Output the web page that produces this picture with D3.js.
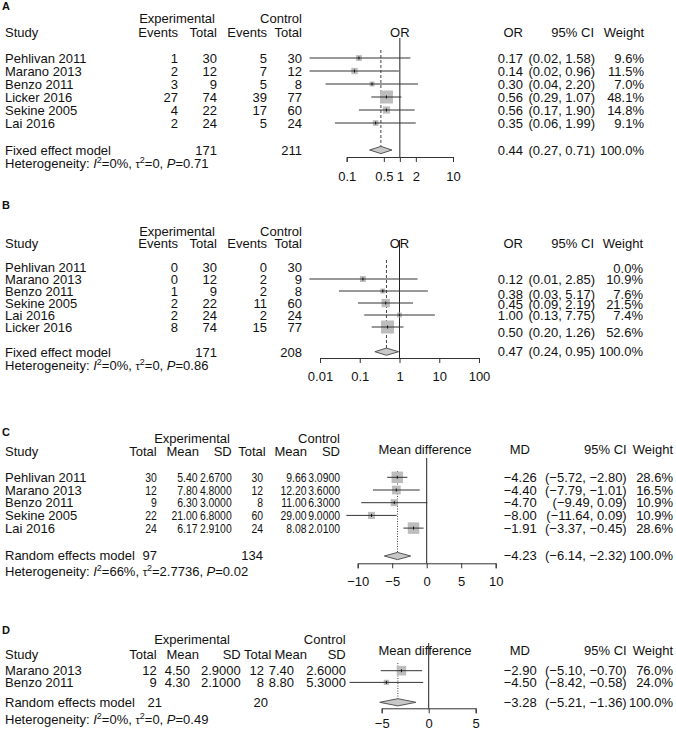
<!DOCTYPE html>
<html><head><meta charset="utf-8">
<script src="https://cdn.jsdelivr.net/npm/d3@7"></script>
<style>
body{margin:0;background:#fff}
svg text{font-family:"Liberation Sans",Arial,Helvetica,sans-serif;font-size:13px;fill:#111}
</style></head><body>
<svg id="c" width="676" height="729"></svg>
<script>
// ---------- Panel A data ----------
const aStudies = ["Pehlivan 2011","Marano 2013","Benzo 2011","Licker 2016","Sekine 2005","Lai 2016"];
const aExpEvents = [1,2,3,27,4,2];
const aExpTotal  = [30,12,9,74,22,24];
const aCtlEvents = [5,7,5,39,17,5];
const aCtlTotal  = [30,12,8,77,60,24];
const aEst   = [0.17,0.14,0.30,0.56,0.56,0.35];
const aLower = [0.02,0.02,0.04,0.29,0.17,0.06];
const aUpper = [1.58,0.96,2.20,1.07,1.90,1.99];
const aWeight = [9.6,11.5,7.0,48.1,14.8,9.1];
const aPooled = [0.44,0.27,0.71];
const aTotals = [171,211];
const aHet = ["0%","0","0.71"];
const aTicks = [0.1,0.5,1,2,10];

// ---------- Panel B data ----------
const bStudies = ["Pehlivan 2011","Marano 2013","Benzo 2011","Sekine 2005","Lai 2016","Licker 2016"];
const bExpEvents = [0,0,1,2,2,8];
const bExpTotal  = [30,12,9,22,24,74];
const bCtlEvents = [0,2,2,11,2,15];
const bCtlTotal  = [30,9,8,60,24,77];
const bEst   = [null,0.12,0.38,0.45,1.00,0.50];
const bLower = [null,0.0054,0.03,0.09,0.13,0.20];
const bUpper = [null,2.85,5.17,2.19,7.75,1.26];
const bWeight = [0.0,10.9,7.6,21.5,7.4,52.6];
const bPooled = [0.47,0.24,0.95];
const bTotals = [171,208];
const bHet = ["0%","0","0.86"];
const bTicks = [0.01,0.1,1,10,100];

// ---------- Panel C data ----------
const cStudies = ["Pehlivan 2011","Marano 2013","Benzo 2011","Sekine 2005","Lai 2016"];
const cExpTotal = [30,12,9,22,24];
const cExpMean  = ["5.40","7.80","6.30","21.00","6.17"];
const cExpSD    = ["2.6700","4.8000","3.0000","6.8000","2.9100"];
const cCtlTotal = [30,12,8,60,24];
const cCtlMean  = ["9.66","12.20","11.00","29.00","8.08"];
const cCtlSD    = ["3.0900","3.6000","6.3000","9.0000","2.0100"];
const cEst   = [-4.26,-4.40,-4.70,-8.00,-1.91];
const cLower = [-5.72,-7.79,-9.49,-11.64,-3.37];
const cUpper = [-2.80,-1.01,0.09,-4.36,-0.45];
const cCIText = ["(−5.72, −2.80)","(−7.79, −1.01)","(−9.49, 0.09)","(−11.64, 0.09)","(−3.37, −0.45)"];
const cWeight = [28.6,16.5,10.9,10.9,28.6];
const cPooled = [-4.23,-6.14,-2.32];
const cPooledCI = "(−6.14, −2.32)";
const cTotals = [97,134];
const cHet = ["66%","2.7736","0.02"];
const cTicks = [-10,-5,0,5,10];

// ---------- Panel D data ----------
const dStudies = ["Marano 2013","Benzo 2011"];
const dExpTotal = [12,9];
const dExpMean  = ["4.50","4.30"];
const dExpSD    = ["2.9000","2.1000"];
const dCtlTotal = [12,8];
const dCtlMean  = ["7.40","8.80"];
const dCtlSD    = ["2.6000","5.3000"];
const dEst   = [-2.90,-4.50];
const dLower = [-5.10,-8.42];
const dUpper = [-0.70,-0.58];
const dCIText = ["(−5.10, −0.70)","(−8.42, −0.58)"];
const dWeight = [76.0,24.0];
const dPooled = [-3.28,-5.21,-1.36];
const dPooledCI = "(−5.21, −1.36)";
const dTotals = [21,20];
const dHet = ["0%","0","0.49"];
const dTicks = [-5,0,5];

// ---------- drawing ----------
const svg = d3.select("#c");
const f2 = d3.format(".2f");
const f1 = v => d3.format(".1f")(v) + "%";
const BO = 4.6; // baseline offset from text centre

function T(g, x, y, s, anchor) {
  return g.append("text").attr("x", x).attr("y", y + BO)
    .attr("text-anchor", anchor || "start").text(s);
}
// narrow numeric text (the C table uses condensed numerals)
function N(g, x, y, s, k) {
  const t = T(g, x, y, s, "end");
  const w = t.node().getComputedTextLength();
  t.attr("textLength", w * (k || 0.8)).attr("lengthAdjust", "spacingAndGlyphs");
  return t;
}
function het(g, y, v) {
  const t = g.append("text").attr("x", 5).attr("y", y + BO);
  t.append("tspan").text("Heterogeneity: ");
  t.append("tspan").style("font-style","italic").text("I");
  t.append("tspan").attr("dy",-5).style("font-size","9px").text("2");
  t.append("tspan").attr("dy",5).text("=" + v[0] + ", ");
  t.append("tspan").style("font-size","11px").text("τ");
  t.append("tspan").attr("dy",-5).style("font-size","9px").text("2");
  t.append("tspan").attr("dy",5).text("=" + v[1] + ", ");
  t.append("tspan").style("font-style","italic").text("P");
  t.append("tspan").text("=" + v[2]);
}

function forest(g, p) {
  const x = p.scale;
  const maxW = d3.max(p.weight);
  g.append("line").attr("x1", x(p.ref)).attr("x2", x(p.ref))
    .attr("y1", p.refTop).attr("y2", p.axisY).attr("stroke", "#222").attr("stroke-width", 1);
  g.append("line").attr("x1", x(p.pooled[0])).attr("x2", x(p.pooled[0]))
    .attr("y1", p.poolTop).attr("y2", p.pooledY).attr("stroke", "#444").attr("stroke-width", 1)
    .attr("stroke-dasharray", p.dash);
  p.est.forEach((e, i) => {
    if (e === null) return;
    const y = p.rowY[i];
    const s = p.maxSize * Math.sqrt(p.weight[i] / maxW);
    g.append("rect").attr("x", x(e) - s / 2).attr("y", y - s / 2)
      .attr("width", s).attr("height", s).attr("fill", "#bdbdbd");
    g.append("line").attr("x1", x(p.lower[i])).attr("x2", x(p.upper[i]))
      .attr("y1", y).attr("y2", y).attr("stroke", "#333").attr("stroke-width", 1);
    g.append("line").attr("x1", x(e)).attr("x2", x(e))
      .attr("y1", y - 1.5).attr("y2", y + 1.5).attr("stroke", "#111").attr("stroke-width", 1);
  });
  const [pe, pl, ph] = p.pooled, yd = p.pooledY, hh = 3.6;
  g.append("path")
    .attr("d", `M${x(pl)},${yd}L${x(pe)},${yd - hh}L${x(ph)},${yd}L${x(pe)},${yd + hh}Z`)
    .attr("fill", "#c8c8c8").attr("stroke", "#555").attr("stroke-width", 1);
  const ax = d3.axisBottom(x).tickValues(p.ticks).tickSize(5).tickSizeOuter(5)
    .tickPadding(p.pad).tickFormat(p.fmt);
  const ag = g.append("g").attr("transform", `translate(0,${p.axisY})`).call(ax);
  ag.selectAll("path,line").attr("stroke", "#333");
  ag.selectAll("text").attr("font-size", null).attr("font-family", null).style("fill", "#111");
  ag.attr("font-size", null).attr("font-family", null);
}

// ===== Panel A =====
(function () {
  const g = svg.append("g");
  g.append("text").attr("x", 2).attr("y", 9.5).style("font-weight", "bold").style("font-size", "11px").text("A");
  const rowY = aStudies.map((_, i) => 58 + 13 * i);
  T(g, 215, 18, "Experimental", "end"); T(g, 302, 18, "Control", "end");
  T(g, 5, 32, "Study"); T(g, 178, 32, "Events", "end"); T(g, 217, 32, "Total", "end");
  T(g, 267, 32, "Events", "end"); T(g, 302, 32, "Total", "end");
  const sc = d3.scaleLog().domain([0.1, 10]).range([346.7, 453]);
  T(g, sc(1), 32, "OR", "middle");
  T(g, 523, 32, "OR", "end"); T(g, 594, 32, "95% CI", "end"); T(g, 644, 32, "Weight", "end");
  aStudies.forEach((s, i) => {
    const y = rowY[i];
    T(g, 5, y, s);
    T(g, 178, y, aExpEvents[i], "end"); T(g, 217, y, aExpTotal[i], "end");
    T(g, 267, y, aCtlEvents[i], "end"); T(g, 302, y, aCtlTotal[i], "end");
    T(g, 523, y, f2(aEst[i]), "end");
    T(g, 595, y, "(" + f2(aLower[i]) + ", " + f2(aUpper[i]) + ")", "end");
    T(g, 644, y, f1(aWeight[i]), "end");
  });
  T(g, 5, 150, "Fixed effect model"); T(g, 217, 150, aTotals[0], "end"); T(g, 302, 150, aTotals[1], "end");
  T(g, 523, 150, f2(aPooled[0]), "end");
  T(g, 595, 150, "(" + f2(aPooled[1]) + ", " + f2(aPooled[2]) + ")", "end");
  T(g, 644, 150, f1(100), "end");
  het(g, 163, aHet);
  forest(g, { scale: sc, ref: 1, refTop: 38, poolTop: 50, axisY: 157, pooledY: 150, rowY,
    est: aEst, lower: aLower, upper: aUpper, weight: aWeight, pooled: aPooled, maxSize: 13,
    ticks: aTicks, pad: 10, fmt: d => String(d), dash: "3,2" });
})();

// ===== Panel B =====
(function () {
  const g = svg.append("g");
  g.append("text").attr("x", 2).attr("y", 209).style("font-weight", "bold").style("font-size", "11px").text("B");
  const rowY = bStudies.map((_, i) => 267 + 12 * i);
  const rightY = [268, 279, 294, 304, 315, 332];
  T(g, 215, 231.7, "Experimental", "end"); T(g, 302, 231.7, "Control", "end");
  T(g, 5, 243, "Study"); T(g, 178, 243, "Events", "end"); T(g, 217, 243, "Total", "end");
  T(g, 267, 243, "Events", "end"); T(g, 302, 243, "Total", "end");
  const sc = d3.scaleLog().domain([0.01, 100]).range([320, 479]);
  T(g, sc(1), 243, "OR", "middle");
  T(g, 523, 243, "OR", "end"); T(g, 594, 243, "95% CI", "end"); T(g, 643, 243, "Weight", "end");
  bStudies.forEach((s, i) => {
    const y = rowY[i];
    T(g, 5, y, s);
    T(g, 178, y, bExpEvents[i], "end"); T(g, 217, y, bExpTotal[i], "end");
    T(g, 267, y, bCtlEvents[i], "end"); T(g, 302, y, bCtlTotal[i], "end");
    if (bEst[i] !== null) {
      T(g, 523, rightY[i], f2(bEst[i]), "end");
      T(g, 595, rightY[i], "(" + f2(bLower[i]) + ", " + f2(bUpper[i]) + ")", "end");
    }
    T(g, 643, rightY[i], f1(bWeight[i]), "end");
  });
  T(g, 5, 352, "Fixed effect model"); T(g, 217, 352, bTotals[0], "end"); T(g, 302, 352, bTotals[1], "end");
  T(g, 523, 351, f2(bPooled[0]), "end");
  T(g, 595, 351, "(" + f2(bPooled[1]) + ", " + f2(bPooled[2]) + ")", "end");
  T(g, 643, 351, f1(100), "end");
  het(g, 365, bHet);
  forest(g, { scale: sc, ref: 1, refTop: 240, poolTop: 260, axisY: 358, pooledY: 351.7, rowY,
    est: bEst, lower: bLower, upper: bUpper, weight: bWeight, pooled: bPooled, maxSize: 13,
    ticks: bTicks, pad: 8.5, fmt: d => String(d), dash: "3,2" });
})();

// ===== Panel C =====
(function () {
  const g = svg.append("g");
  g.append("text").attr("x", 2).attr("y", 435.7).style("font-weight", "bold").style("font-size", "11px").text("C");
  const rowY = cStudies.map((_, i) => 477.3 + 12.7 * i);
  T(g, 230, 438.3, "Experimental", "end"); T(g, 340, 438.3, "Control", "end");
  T(g, 5, 451.7, "Study");
  T(g, 156.7, 451.7, "Total", "end"); T(g, 199, 451.7, "Mean", "end"); T(g, 231.7, 451.7, "SD", "end");
  T(g, 265.7, 451.7, "Total", "end"); T(g, 307, 451.7, "Mean", "end"); T(g, 340, 451.7, "SD", "end");
  T(g, 425, 449, "Mean difference", "middle");
  T(g, 530, 449, "MD", "end"); T(g, 626.7, 449, "95% CI", "end"); T(g, 673, 449, "Weight", "end");
  const sc = d3.scaleLinear().domain([-10, 10]).range([357.7, 495.7]);
  cStudies.forEach((s, i) => {
    const y = rowY[i];
    T(g, 5, y, s);
    N(g, 156.7, y, cExpTotal[i]); N(g, 197.5, y, cExpMean[i]); N(g, 231.7, y, cExpSD[i]);
    N(g, 263, y, cCtlTotal[i]); N(g, 306.5, y, cCtlMean[i]); N(g, 340, y, cCtlSD[i]);
    T(g, 536.7, y, f2(cEst[i]), "end");
    T(g, 626.7, y, cCIText[i], "end");
    T(g, 673, y, f1(cWeight[i]), "end");
  });
  T(g, 5, 555, "Random effects model"); T(g, 157, 555, cTotals[0], "end"); T(g, 263, 555, cTotals[1], "end");
  T(g, 536.7, 555, f2(cPooled[0]), "end"); T(g, 626.7, 555, cPooledCI, "end"); T(g, 673, 555, f1(100), "end");
  het(g, 571.7, cHet);
  forest(g, { scale: sc, ref: 0, refTop: 458, poolTop: 471, axisY: 563.3, pooledY: 556, rowY,
    est: cEst, lower: cLower, upper: cUpper, weight: cWeight, pooled: cPooled, maxSize: 11.5,
    ticks: cTicks, pad: 8.8, fmt: d3.format("d"), dash: "1,1.5" });
})();

// ===== Panel D =====
(function () {
  const g = svg.append("g");
  g.append("text").attr("x", 2).attr("y", 634).style("font-weight", "bold").style("font-size", "11px").text("D");
  const rowY = dStudies.map((_, i) => 670.7 + 11.7 * i);
  T(g, 230, 639.3, "Experimental", "end"); T(g, 345.7, 639.3, "Control", "end");
  T(g, 5, 654, "Study");
  T(g, 156.7, 654, "Total", "end"); T(g, 199, 654, "Mean", "end"); T(g, 240.7, 654, "SD", "end");
  T(g, 271.5, 654, "Total", "end"); T(g, 307, 654, "Mean", "end"); T(g, 345.7, 654, "SD", "end");
  T(g, 425, 650, "Mean difference", "middle");
  T(g, 530, 650, "MD", "end"); T(g, 626.7, 650, "95% CI", "end"); T(g, 673, 650, "Weight", "end");
  const sc = d3.scaleLinear().domain([-5, 5]).range([381.7, 475.7]);
  dStudies.forEach((s, i) => {
    const y = rowY[i];
    T(g, 5, y, s);
    T(g, 156.7, y, dExpTotal[i], "end"); T(g, 190, y, dExpMean[i], "end"); T(g, 240.7, y, dExpSD[i], "end");
    T(g, 264, y, dCtlTotal[i], "end"); T(g, 294, y, dCtlMean[i], "end"); T(g, 346, y, dCtlSD[i], "end");
    T(g, 536.7, y, f2(dEst[i]), "end");
    T(g, 626.7, y, dCIText[i], "end");
    T(g, 673, y, f1(dWeight[i]), "end");
  });
  T(g, 5, 702.3, "Random effects model"); T(g, 162, 702.3, dTotals[0], "end"); T(g, 268, 702.3, dTotals[1], "end");
  T(g, 536.7, 702.3, f2(dPooled[0]), "end"); T(g, 626.7, 702.3, dPooledCI, "end"); T(g, 673, 702.3, f1(100), "end");
  het(g, 719.5, dHet);
  forest(g, { scale: sc, ref: 0, refTop: 643, poolTop: 663, axisY: 708.3, pooledY: 702.3, rowY,
    est: dEst, lower: dLower, upper: dUpper, weight: dWeight, pooled: dPooled, maxSize: 9.5,
    ticks: dTicks, pad: 5, fmt: d3.format("d"), dash: "1,1.5" });
})();
</script>
</body></html>
